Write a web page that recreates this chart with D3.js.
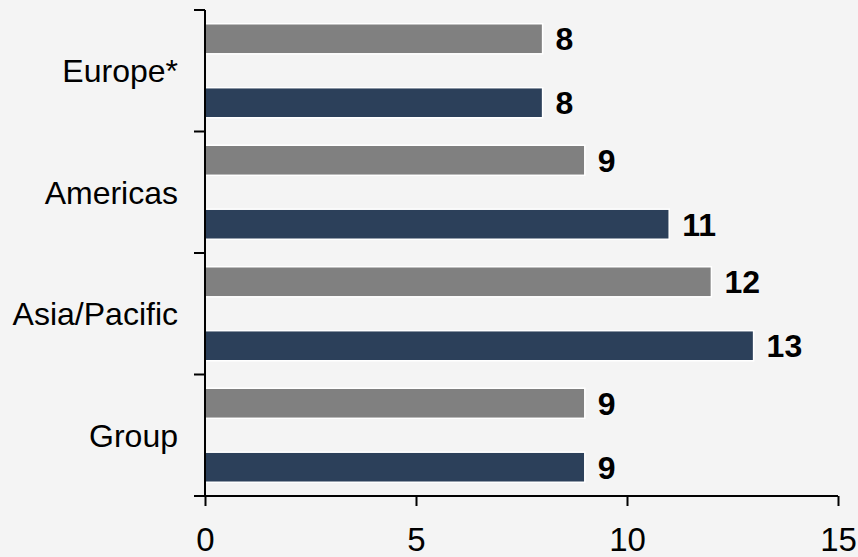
<!DOCTYPE html>
<html>
<head>
<meta charset="utf-8">
<script src="https://cdn.jsdelivr.net/npm/d3@7"></script>
<style>
  html, body { margin: 0; padding: 0; background: #f4f4f4; }
  svg { display: block; }
  text { font-family: "Liberation Sans", Arial, sans-serif; }
</style>
</head>
<body>
<svg id="chart" width="858" height="557"></svg>
<script>
const categories = ["Europe*", "Americas", "Asia/Pacific", "Group"];
const seriesNames = ["Series A", "Series B"];
const seriesA = [8, 9, 12, 9];
const seriesB = [8, 11, 13, 9];
const xTicks = [0, 5, 10, 15];
const colors = ["#808080", "#2c405a"];

const W = 858, H = 557;
const margin = { left: 205, right: 20, top: 10, bottom: 61 };
const svg = d3.select("#chart");
svg.append("rect").attr("width", W).attr("height", H).attr("fill", "#f4f4f4");

const x = d3.scaleLinear().domain([0, 15]).range([margin.left, 838]);
const y0 = d3.scaleBand().domain(categories).range([margin.top, 496]).paddingInner(0).paddingOuter(0);
const y1 = d3.scaleBand().domain(seriesNames).range([0, y0.bandwidth()]).paddingInner(0.53).paddingOuter(0.215);

const data = categories.map((c, i) => ({ cat: c, vals: [seriesA[i], seriesB[i]] }));

const groups = svg.append("g").selectAll("g").data(data).join("g")
  .attr("transform", d => `translate(0,${y0(d.cat)})`);

groups.selectAll("rect").data(d => d.vals.map((v, j) => ({ v, s: seriesNames[j], j })))
  .join("rect")
  .attr("x", x(0))
  .attr("y", d => y1(d.s))
  .attr("width", d => x(d.v) - x(0))
  .attr("height", y1.bandwidth())
  .attr("fill", d => colors[d.j])
  .attr("stroke", "#ffffff")
  .attr("stroke-width", 1.5);

groups.selectAll("text.val").data(d => d.vals.map((v, j) => ({ v, s: seriesNames[j], j })))
  .join("text")
  .attr("class", "val")
  .attr("x", d => x(d.v) + 13)
  .attr("y", d => y1(d.s) + y1.bandwidth() / 2)
  .attr("dy", "0.36em")
  .attr("font-size", 32)
  .attr("font-weight", "bold")
  .attr("fill", "#000")
  .text(d => d.v);

// X axis
const xAxis = d3.axisBottom(x).tickValues(xTicks).tickSize(10).tickSizeOuter(0).tickPadding(22);
const gx = svg.append("g").attr("transform", `translate(0,496)`).call(xAxis);
gx.select(".domain").attr("stroke", "#000").attr("stroke-width", 2).attr("d", `M${x(0) - 11},0H${x(15)}`);
gx.selectAll(".tick line").attr("stroke", "#000").attr("stroke-width", 2);
gx.selectAll(".tick text").attr("font-size", 33).attr("fill", "#000")
  .attr("font-family", "Liberation Sans, Arial, sans-serif");

// Y axis
const bounds = categories.map(c => y0(c)).concat([y0.range()[1]]);
const gy = svg.append("g");
gy.append("line").attr("x1", x(0)).attr("x2", x(0)).attr("y1", margin.top).attr("y2", 496)
  .attr("stroke", "#000").attr("stroke-width", 2);
gy.selectAll("line.tk").data(bounds).join("line").attr("class", "tk")
  .attr("x1", x(0) - 11).attr("x2", x(0)).attr("y1", d => d).attr("y2", d => d)
  .attr("stroke", "#000").attr("stroke-width", 2);
gy.selectAll("text").data(categories).join("text")
  .attr("x", x(0) - 27)
  .attr("y", d => y0(d) + y0.bandwidth() / 2)
  .attr("dy", "0.36em")
  .attr("text-anchor", "end")
  .attr("font-size", 32)
  .attr("fill", "#000")
  .text(d => d);
</script>
</body>
</html>
